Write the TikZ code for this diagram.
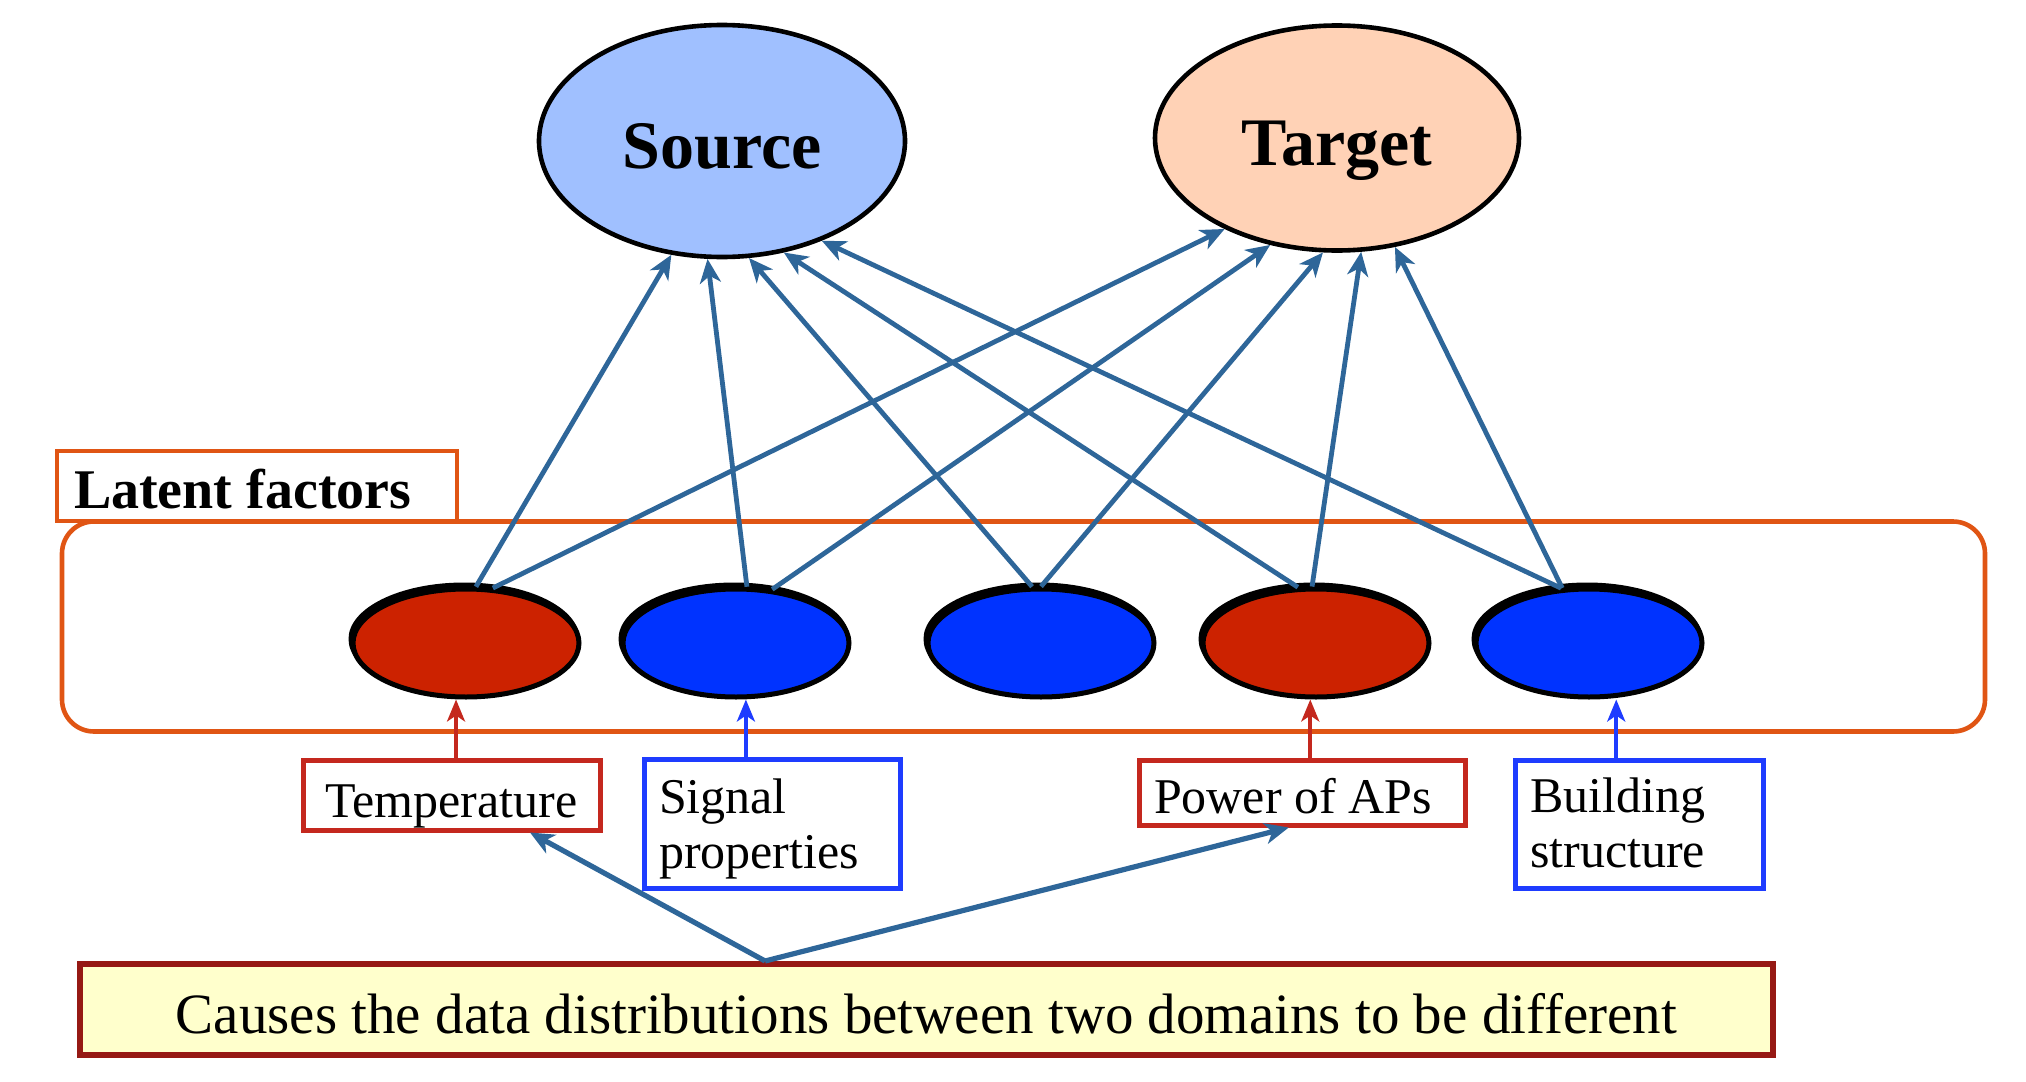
\documentclass[tikz,border=0pt]{standalone}
\usepackage{fontspec}
\setmainfont{Liberation Serif}
\usetikzlibrary{arrows.meta,calc,shapes.geometric}
\definecolor{srcfill}{RGB}{160,192,255}
\definecolor{tgtfill}{RGB}{255,210,182}
\definecolor{redfac}{RGB}{204,34,0}
\definecolor{bluefac}{RGB}{0,51,255}
\definecolor{orng}{RGB}{224,85,20}
\definecolor{boxred}{RGB}{196,40,30}
\definecolor{boxblue}{RGB}{30,60,255}
\definecolor{linkc}{RGB}{46,102,153}
\definecolor{causefill}{RGB}{255,255,204}
\definecolor{causeline}{RGB}{150,25,20}
\begin{document}
\begin{tikzpicture}[x=0.5pt,y=-0.5pt,
  domnode/.style={ellipse, draw=black, line width=2.3pt, inner sep=0pt,
    text height=27pt, text depth=0pt,
    font=\bfseries\fontsize{34}{38}\selectfont},
  factornode/.style={ellipse, draw=black, line width=2.5pt, inner sep=0pt,
    minimum width=113pt, minimum height=54pt},
  linkarrow/.style={draw=linkc, line width=2.4pt,
    -{Stealth[length=12pt,width=10.5pt,inset=3.5pt]}},
  redarrow/.style={draw=boxred, line width=1.8pt,
    -{Stealth[length=11pt,width=9pt,inset=3pt]}},
  bluearrow/.style={draw=boxblue, line width=1.8pt,
    -{Stealth[length=11pt,width=9pt,inset=3pt]}},
  labelbox/.style={draw, line width=2.5pt, inner ysep=0pt,
    font=\fontsize{25}{27.5}\selectfont},
]
\useasboundingbox (0,0) rectangle (2026,1082);

% domains
\node[domnode, fill=srcfill, minimum width=183pt, minimum height=116pt] (src) at (722,141) {Source};
\node[domnode, fill=tgtfill, minimum width=182pt, minimum height=112.5pt] (tgt) at (1337,138) {Target};

% latent factor container
\node[draw=orng, line width=2.3pt, rounded corners=16pt, minimum width=961.5pt,
  minimum height=105pt, inner sep=0pt] (latent) at (1023.5,626.5) {};
\node[draw=orng, line width=2.3pt, minimum width=200pt, minimum height=35pt,
  inner xsep=8.5pt, inner ysep=0pt, text width=183pt, align=left,
  text height=24pt, text depth=2pt,
  font=\bfseries\fontsize{28}{30}\selectfont] (latlab) at (257,486)
  {\spaceskip=0pt\xspaceskip=0pt Latent factors};

% shadows of factor ellipses
\foreach \cx in {466,736,1041,1316,1589}
  \fill[black] (\cx-2,643-4) ellipse [x radius=57.75pt, y radius=28.25pt];

% factors
\node[factornode, fill=redfac]  (e1) at (466,643) {};
\node[factornode, fill=bluefac] (e2) at (736,643) {};
\node[factornode, fill=bluefac] (e3) at (1041,643) {};
\node[factornode, fill=redfac]  (e4) at (1316,643) {};
\node[factornode, fill=bluefac] (e5) at (1589,643) {};

% factor links
\draw[linkarrow] (e1.80)  -- (src.246.6);
\draw[linkarrow] (e1.64)  -- (tgt.219.6);
\draw[linkarrow] (e2.79)  -- (src.263.5);
\draw[linkarrow] (e2.56)  -- (tgt.238.4);
\draw[linkarrow] (e3.99)  -- (src.283.6);
\draw[linkarrow] (e3.90)  -- (tgt.263.3);
\draw[linkarrow] (e4.108) -- (src.299.9);
\draw[linkarrow] (e4.94)  -- (tgt.282.2);
\draw[linkarrow] (e5.117) -- (src.315.6);
\draw[linkarrow] (e5.116) -- (tgt.298.5);

% observed factor boxes
\node[labelbox, draw=boxred, minimum width=148.5pt, minimum height=35pt,
  inner xsep=0pt, text height=24pt, text depth=2pt] (temp) at (451.5,795) {Temperature};
\node[labelbox, draw=boxblue, minimum width=128pt, minimum height=64.5pt,
  inner xsep=7.5pt, text width=113pt, align=left] (sig) at (772,823.5)
  {\rule{0pt}{22.5pt}Signal\\properties\rule[-5.5pt]{0pt}{5.5pt}};
\node[labelbox, draw=boxred, minimum width=163pt, minimum height=32.5pt,
  inner xsep=7.5pt, text width=148pt, align=left,
  text height=22.5pt, text depth=2pt] (power) at (1302,792.5)
  {\spaceskip=0pt\xspaceskip=0pt Power of APs};
\node[labelbox, draw=boxblue, minimum width=124pt, minimum height=64pt,
  inner xsep=7.5pt, text width=109pt, align=left] (build) at (1639,824)
  {\rule{0pt}{20pt}Building\\structure\rule[-4.5pt]{0pt}{4.5pt}};

\coordinate (t1) at ($(temp.north west)!0.515!(temp.north east)$);
\coordinate (t2) at ($(sig.north west)!0.40!(sig.north east)$);
\coordinate (t3) at ($(power.north west)!0.525!(power.north east)$);
\coordinate (t4) at ($(build.north west)!0.41!(build.north east)$);
\draw[redarrow]  (t1) -- (t1 |- e1.south);
\draw[bluearrow] (t2) -- (t2 |- e2.south);
\draw[redarrow]  (t3) -- (t3 |- e4.south);
\draw[bluearrow] (t4) -- (t4 |- e5.south);

% cause box
\node[draw=causeline, fill=causefill, line width=3pt, minimum width=846.5pt,
  minimum height=45.5pt, inner sep=0pt, text height=25pt, text depth=1.5pt,
  font=\fontsize{28.5}{32}\selectfont]
  (cause) at (926.5,1009.5) {Causes the data distributions between two domains to be different};
\coordinate (c0) at ($(cause.north west)!0.405!(cause.north east)$);
\coordinate (c1) at ($(temp.south west)!0.76!(temp.south east)$);
\coordinate (c2) at ($(power.south west)!0.46!(power.south east)$);
\draw[linkarrow, line width=2.6pt] (c0) -- (c1);
\draw[linkarrow, line width=2.6pt] (c0) -- (c2);
\end{tikzpicture}
\end{document}
